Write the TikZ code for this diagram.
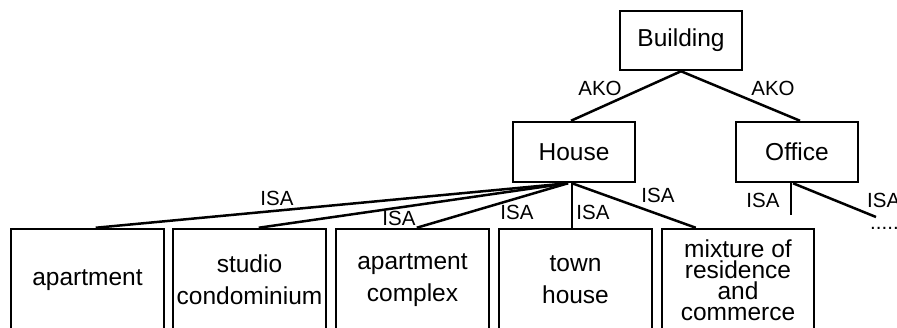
\documentclass[tikz,border=0pt]{standalone}
\usepackage{fontspec}
\setmainfont{Liberation Sans}
\begin{document}
\begin{tikzpicture}[x=1pt,y=-1pt,
  box/.style={draw, line width=2.5pt, rectangle, inner sep=0pt, align=center,
              font=\fontsize{24.5}{32}\selectfont},
  conn/.style={line width=2.5pt},
  rel/.style={font=\fontsize{20.5}{24}\selectfont, inner sep=0pt}]
\useasboundingbox (0,0) rectangle (897,327);
\clip (0,0) rectangle (897,327);

% upper levels
\node[box, minimum width=122pt, minimum height=59pt] (building) at (681,40.5) {Building};
\node[box, minimum width=122pt, minimum height=60pt] (house) at (574,152) {House};
\node[box, minimum width=122pt, minimum height=60pt] (office) at (797,152) {Office};

% lower level (boxes run past the bottom edge)
\node[box, minimum width=153pt, minimum height=102pt] (apt) at (87.5,280) {apartment};
\node[box, minimum width=153pt, minimum height=102pt] (studio) at (249.5,280) {studio\\condominium};
\node[box, minimum width=153pt, minimum height=102pt] (complex) at (412.5,280) {apartment\\complex};
\node[box, minimum width=153pt, minimum height=102pt] (town) at (575.5,280) {town\\house};
\node[box, minimum width=152pt, minimum height=102pt,
      font=\fontsize{24.5}{21}\selectfont] (mixture) at (738,280) {mixture of\\residence\\and\\commerce};

% AKO links
\draw[conn] (building.south) -- ([xshift=-3pt]house.north);
\draw[conn] (building.south) -- ([xshift=3pt]office.north);
\node[rel] (ako1) at (600,88) {AKO};
\node[rel] (ako2) at (773,88) {AKO};

% ISA links from House
\coordinate (hub) at ([xshift=-6pt]house.south);
\draw[conn] (hub) -- ([xshift=86pt]apt.north west);
\draw[conn] (hub) -- ([xshift=87pt]studio.north west);
\draw[conn] (hub) -- ([xshift=82pt]complex.north west);
\draw[conn] ([xshift=-2pt]house.south) -- ([xshift=-2pt]house.south |- town.north);
\draw[conn] ([xshift=-2pt]house.south) -- ([xshift=35pt]mixture.north west);
\node[rel] (isa1) at (277,198) {ISA};
\node[rel] (isa2) at (399,218) {ISA};
\node[rel] (isa3) at (517,212) {ISA};
\node[rel] (isa4) at (593,212) {ISA};
\node[rel] (isa5) at (658,195) {ISA};

% ISA links from Office
\coordinate (odown) at (791,215);
\coordinate (oside) at (876,217);
\draw[conn] ([xshift=-6pt]office.south) -- (odown);
\draw[conn] ([xshift=-4pt]office.south) -- (oside);
\node[rel] (isa6) at (763,200) {ISA};
\node[rel, anchor=west] (isa7) at (867,200) {ISA};
\node[rel, anchor=west] (dots) at (870,228) {......};
\end{tikzpicture}
\end{document}
